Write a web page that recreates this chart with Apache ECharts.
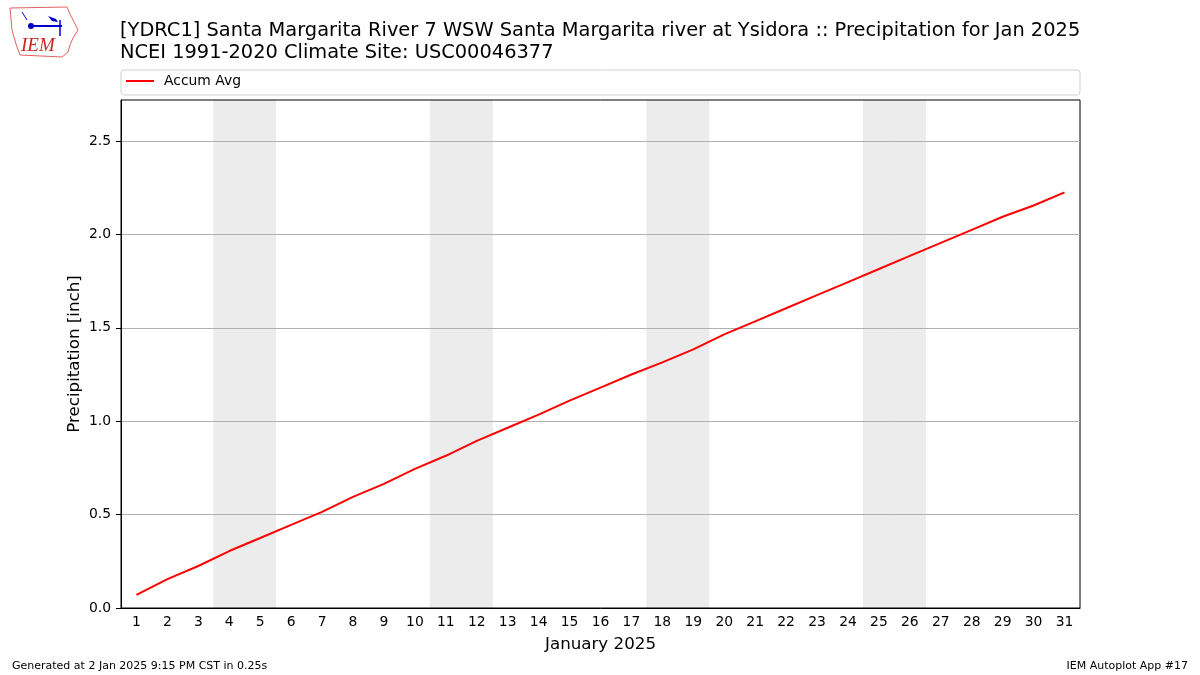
<!DOCTYPE html>
<html><head><meta charset="utf-8">
<script src="https://cdn.jsdelivr.net/npm/echarts@6/dist/echarts.min.js"></script>
<style>html,body{margin:0;padding:0;background:#fff}#c{width:1200px;height:675px}</style>
</head><body><div id="c"></div>
<script>
const days = ['1','2','3','4','5','6','7','8','9','10','11','12','13','14','15','16','17','18','19','20','21','22','23','24','25','26','27','28','29','30','31'];
const accumAvg = [0.07,0.155,0.225,0.305,0.375,0.445,0.515,0.595,0.665,0.745,0.815,0.895,0.965,1.035,1.11,1.18,1.25,1.315,1.385,1.465,1.535,1.605,1.675,1.745,1.815,1.885,1.955,2.025,2.095,2.155,2.225];
const weekendDays = ['4','5','11','12','18','19','25','26'];
const yTicks = [0, 0.5, 1.0, 1.5, 2.0, 2.5];
const yMax = 2.72;
const titleLines = ['[YDRC1] Santa Margarita River 7 WSW Santa Margarita river at Ysidora :: Precipitation for Jan 2025','NCEI 1991-2020 Climate Site: USC00046377'];

const shade = days.map(d => weekendDays.includes(d) ? yMax : null);
const F = 'DejaVu Sans';
const chart = echarts.init(document.getElementById('c'));
chart.setOption({
  animation: false,
  textStyle: {fontFamily: F},
  grid: {left: 121, right: 120, top: 100, bottom: 67, show: true, borderColor: '#000', borderWidth: 1, containLabel: false},
  title: {text: titleLines.join('\n'), left: 120, top: 20, padding: 0, textStyle: {fontFamily: F, fontSize: 19.4, fontWeight: 'normal', color: '#000', lineHeight: 22}},
  xAxis: {
    type: 'category', data: days, boundaryGap: true,
    name: 'January 2025', nameLocation: 'middle', nameGap: 28,
    nameTextStyle: {fontSize: 16.7, color: '#000', fontFamily: F},
    axisLine: {lineStyle: {color: '#000'}},
    axisTick: {alignWithLabel: true, length: 5, lineStyle: {color: '#000'}},
    axisLabel: {color: '#000', fontSize: 13.9, margin: 7, interval: 0, fontFamily: F},
    splitLine: {show: false}
  },
  yAxis: {
    type: 'value', min: 0, max: yMax, interval: 0.5,
    name: 'Precipitation [inch]', nameLocation: 'middle', nameGap: 38, nameMoveOverlap: false,
    nameTextStyle: {fontSize: 16.7, color: '#000', fontFamily: F},
    axisLine: {show: true, lineStyle: {color: '#000'}},
    axisTick: {show: true, length: 5, customValues: yTicks, lineStyle: {color: '#000'}},
    axisLabel: {color: '#000', fontSize: 13.9, margin: 10, fontFamily: F, customValues: yTicks,
      formatter: v => v.toFixed(1)},
    splitLine: {show: true, lineStyle: {color: '#b0b0b0', width: 1}}
  },
  legend: {show: false},
  series: [
    {type: 'bar', data: shade, barWidth: 32, barGap: '-100%', z: -1, silent: true,
     itemStyle: {color: '#ececec'}},
    {type: 'line', name: 'Accum Avg', data: accumAvg, showSymbol: false, lineStyle: {color: '#ff0000', width: 2}, itemStyle: {color: '#ff0000'}, z: 5}
  ],
  graphic: [
    {type: 'rect', shape: {x: 121, y: 70, width: 959, height: 25, r: 3}, style: {fill: '#fff', stroke: '#d0d0d0', lineWidth: 1}},
    {type: 'line', shape: {x1: 126, y1: 81, x2: 154, y2: 81}, style: {stroke: '#ff0000', lineWidth: 2}},
    {type: 'text', x: 164, y: 81, style: {text: 'Accum Avg', font: '13.9px "DejaVu Sans"', fill: '#000', verticalAlign: 'middle'}},
    {type: 'text', x: 12, y: 666, style: {text: 'Generated at 2 Jan 2025 9:15 PM CST in 0.25s', font: '11px "DejaVu Sans"', fill: '#000', verticalAlign: 'middle'}},
    {type: 'text', x: 1188, y: 666, style: {text: 'IEM Autoplot App #17', font: '11px "DejaVu Sans"', fill: '#000', align: 'right', verticalAlign: 'middle'}},
    {type: 'polyline', shape: {points: [[10,8],[67,7],[70,14],[74,22],[78,30],[73,38],[70,45],[68,52],[62,57],[20,55],[16,44],[12,30],[10,8]]}, style: {fill: 'none', stroke: '#e06060', lineWidth: 1}},
    {type: 'text', x: 21, y: 46, style: {text: 'IEM', font: 'italic 19px "Liberation Serif"', fill: '#cc2222', verticalAlign: 'middle'}},
    {type: 'line', shape: {x1: 30, y1: 26, x2: 62, y2: 26}, style: {stroke: '#0000cc', lineWidth: 2}},
    {type: 'circle', shape: {cx: 31, cy: 26, r: 3}, style: {fill: '#0000cc'}},
    {type: 'polygon', shape: {points: [[48,16],[56,19],[58,22],[52,21]]}, style: {fill: '#0000cc'}},
    {type: 'line', shape: {x1: 60, y1: 20, x2: 60, y2: 36}, style: {stroke: '#0000cc', lineWidth: 1.5}},
    {type: 'line', shape: {x1: 22, y1: 12, x2: 27, y2: 20}, style: {stroke: '#0000cc', lineWidth: 1}}
  ]
});
</script></body></html>
